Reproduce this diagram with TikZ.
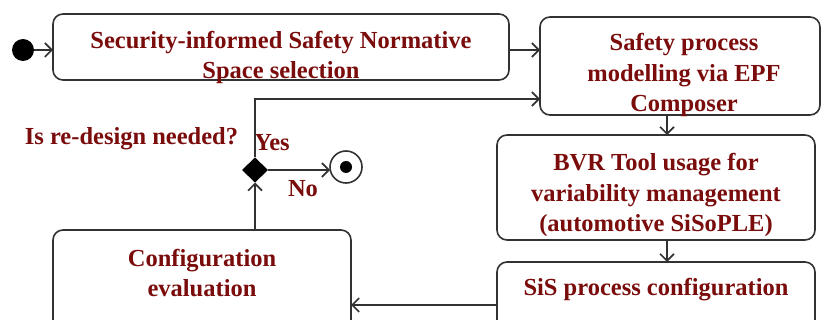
\documentclass[tikz,border=0pt]{standalone}
\usepackage{fontspec}
\setmainfont{Liberation Serif}
\usetikzlibrary{arrows.meta,shapes.geometric}
\definecolor{txtred}{RGB}{122,12,12}
\definecolor{linegray}{RGB}{50,50,50}
\begin{document}
\begin{tikzpicture}[x=1pt,y=-1pt,
  box/.style={draw=linegray,line width=1.6pt,rounded corners=10pt,inner sep=0pt,outer sep=0pt},
  lbl/.style={text=txtred,font=\fontsize{24.5}{30.5}\selectfont\bfseries,align=center,inner sep=0pt,anchor=base},
  arr/.style={draw=linegray,line width=1.6pt,-{Straight Barb[length=7pt,width=14pt,line width=1.6pt]}},
  ln/.style={draw=linegray,line width=1.6pt}]
\useasboundingbox (0,0) rectangle (822,320);
\clip (0,0) rectangle (822,320);
% boxes
\node[box,minimum width=456,minimum height=66] (b1) at (281,47) {};
\node[box,minimum width=280,minimum height=98] (b2) at (680,66) {};
\node[box,minimum width=318,minimum height=105] (b3) at (656,187.5) {};
\node[box,minimum width=318,minimum height=83] (b4) at (656,303.5) {};
\node[box,minimum width=298,minimum height=115] (b5) at (202,287.5) {};
% start, decision, final
\node[circle,fill=black,minimum size=22,inner sep=0pt,outer sep=0pt] (s) at (23,50) {};
\node[diamond,fill=black,minimum width=26,minimum height=25,inner sep=0pt,outer sep=0pt] (d) at (255,170) {};
\node[circle,draw=linegray,line width=1.6pt,minimum size=32,inner sep=0pt,outer sep=0pt] (f) at (346,167) {};
\node[circle,fill=black,minimum size=12,inner sep=0pt] (fi) at (f.center) {};
% labels (anchor = baseline of last line)
\node[lbl] (t1) at (281,79) {Security-informed Safety Normative\\Space selection};
\node[lbl] (t2) at (684,112) {Safety process\\modelling via EPF\\Composer};
\node[lbl] (t3) at (656,232) {BVR Tool usage for\\variability management\\(automotive SiSoPLE)};
\node[lbl] (t4) at (656,296) {SiS process configuration};
\node[lbl] (t5) at (202,297) {Configuration\\evaluation};
\node[lbl] (q) at (131.5,145) {Is re-design needed?};
\node[lbl] (yes) at (272,151) {Yes};
\node[lbl] (no) at (303,197) {No};
% helper coordinates
\coordinate (cx) at (667,0);
\coordinate (cy) at (0,305);
\coordinate (loop) at (0,99);
% connectors
\draw[arr] (s) -- (s -| b1.west);
\draw[arr] (b1.east |- s) -- (b2.west |- s);
\draw[arr] (b2.south -| cx) -- (b3.north -| cx);
\draw[arr] (b3.south -| cx) -- (b4.north -| cx);
\draw[arr] (b4.west |- cy) -- (b5.east |- cy);
\draw[arr] (b5.north -| d) -- (d.south);
\draw[arr] (d.east) -- (d.east -| f.west);
\draw[arr] (d.north) |- (b2.west |- loop);
\end{tikzpicture}
\end{document}
